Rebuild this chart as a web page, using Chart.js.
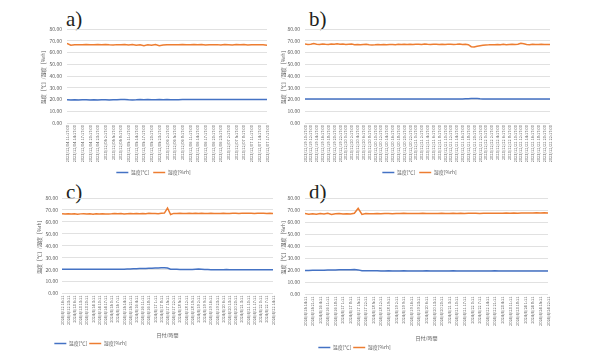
<!DOCTYPE html>
<html>
<head>
<meta charset="utf-8">
<script src="https://cdn.jsdelivr.net/npm/chart.js"></script>
<style>
  html, body { margin: 0; padding: 0; background: #fff; width: 591px; height: 358px; overflow: hidden; }
  canvas { position: absolute; }
  .tag { position: absolute; font-family: "Liberation Serif", "DejaVu Serif", serif; font-size: 21px; line-height: 1; color: #231f20; }
</style>
</head>
<body>
<div class="tag" style="left:66px;top:9px">a)</div>
<div class="tag" style="left:309px;top:9px">b)</div>
<div class="tag" style="left:66px;top:182px">c)</div>
<div class="tag" style="left:309px;top:182px">d)</div>

<canvas id="chartA" width="290" height="185" style="left:0px;top:0px"></canvas>
<canvas id="chartB" width="316" height="185" style="left:275px;top:0px"></canvas>
<canvas id="chartC" width="290" height="180" style="left:0px;top:176px"></canvas>
<canvas id="chartD" width="316" height="184" style="left:275px;top:176px"></canvas>

<script>
// colores y textos comunes
var BLUE = '#4472C4';
var ORANGE = '#ED7D31';
var GRID = '#D9D9D9';
var TEXT = '#595959';
var FONT = '"Noto Sans CJK JP", "Noto Sans", sans-serif';

var yTitle = '温度［℃］/湿度［%rh］';
var xTitle = '日付/時間';
var legendTemp = '温度[℃]';
var legendHum = '湿度[%rh]';
var yMin = 0, yMax = 80, yStep = 5;
var samplesPerLabel = 2;

// a) etiquetas y datos
var labelsA = ['2023/12/04 11:17:00', '2023/12/04 14:17:00', '2023/12/04 17:17:00', '2023/12/04 20:17:00', '2023/12/04 23:17:00',
  '2023/12/05 2:17:00', '2023/12/05 5:17:00', '2023/12/05 8:17:00', '2023/12/05 11:17:00', '2023/12/05 14:17:00',
  '2023/12/05 17:17:00', '2023/12/05 20:17:00', '2023/12/05 23:17:00', '2023/12/06 2:17:00', '2023/12/06 5:17:00',
  '2023/12/06 8:17:00', '2023/12/06 11:17:00', '2023/12/06 14:17:00', '2023/12/06 17:17:00', '2023/12/06 20:17:00',
  '2023/12/06 23:17:00', '2023/12/07 2:17:00', '2023/12/07 5:17:00', '2023/12/07 8:17:00', '2023/12/07 11:17:00',
  '2023/12/07 14:17:00', '2023/12/07 17:17:00'];
var humA = [67.8, 66.2, 66.6, 66.7, 66.5, 66.8, 66.6, 66.7, 66.9, 66.6,
  66.8, 66.5, 66.4, 66.7, 66.6, 66.9, 66.4, 66.8, 66.2, 66.6,
  65.8, 66.5, 66.1, 66.8, 65.7, 66.3, 66.6, 66.5, 66.7, 66.6,
  66.8, 66.7, 66.6, 66.8, 66.5, 66.7, 66.3, 66.6, 66.5, 66.7,
  66.4, 66.8, 66.6, 66.3, 66.7, 66.5, 66.8, 66.4, 66.6, 66.7,
  66.5, 66.6, 66.2];
var tempA = [19.8, 19.6, 19.7, 19.6, 19.7, 19.7, 19.6, 19.7, 19.6, 19.7,
  19.8, 19.6, 19.7, 19.7, 19.9, 20.1, 19.8, 19.6, 19.7, 20.0,
  19.8, 20.1, 19.7, 19.8, 20.0, 19.7, 19.9, 19.8, 19.7, 19.8,
  19.9, 20.0, 20.0, 20.0, 20.1, 20.0, 20.0, 20.1, 20.0, 20.0,
  20.0, 20.1, 20.0, 20.0, 20.1, 20.0, 20.0, 20.0, 20.0, 20.0,
  20.1, 20.0, 20.0];

// b) etiquetas y datos
var labelsB = ['2023/12/19 10:17:00', '2023/12/19 12:17:00', '2023/12/19 14:17:00', '2023/12/19 16:17:00', '2023/12/19 18:17:00',
  '2023/12/19 20:17:00', '2023/12/19 22:17:00', '2023/12/20 0:17:00', '2023/12/20 2:17:00', '2023/12/20 4:17:00',
  '2023/12/20 6:17:00', '2023/12/20 8:17:00', '2023/12/20 10:17:00', '2023/12/20 12:17:00', '2023/12/20 14:17:00',
  '2023/12/20 16:17:00', '2023/12/20 18:17:00', '2023/12/20 20:17:00', '2023/12/20 22:17:00', '2023/12/21 0:17:00',
  '2023/12/21 2:17:00', '2023/12/21 4:17:00', '2023/12/21 6:17:00', '2023/12/21 8:17:00', '2023/12/21 10:17:00',
  '2023/12/21 12:17:00', '2023/12/21 14:17:00', '2023/12/21 16:17:00', '2023/12/21 18:17:00', '2023/12/21 20:17:00',
  '2023/12/21 22:17:00', '2023/12/22 0:17:00', '2023/12/22 2:17:00', '2023/12/22 4:17:00', '2023/12/22 6:17:00',
  '2023/12/22 8:17:00', '2023/12/22 10:17:00', '2023/12/22 12:17:00', '2023/12/22 14:17:00', '2023/12/22 16:17:00',
  '2023/12/22 18:17:00', '2023/12/22 20:17:00', '2023/12/22 22:17:00'];
var humB = [67.2, 66.9, 67.0, 67.6, 67.1, 66.9, 67.3, 67.0, 66.8, 67.2,
  67.1, 67.4, 67.0, 67.2, 66.9, 67.1, 67.3, 66.7, 66.9, 66.5,
  66.8, 67.0, 66.6, 66.3, 66.5, 66.8, 66.6, 66.9, 66.7, 66.8,
  66.9, 66.7, 67.0, 66.8, 67.1, 66.9, 67.0, 66.8, 67.1, 67.0,
  66.9, 67.2, 67.0, 66.9, 67.1, 67.0, 66.8, 67.1, 66.9, 67.0,
  67.1, 66.9, 67.0, 67.2, 66.9, 67.0, 66.6, 64.9, 64.7, 65.3,
  65.7, 66.1, 66.4, 66.5, 66.7, 66.6, 66.8, 66.7, 67.0, 66.6,
  66.9, 67.1, 66.8, 67.0, 67.9, 67.4, 66.9, 66.7, 67.0, 66.8,
  66.9, 67.0, 66.8, 66.9, 66.8];
var tempB = [20.5, 20.5, 20.5, 20.5, 20.5, 20.5, 20.5, 20.5, 20.5, 20.5,
  20.5, 20.5, 20.5, 20.5, 20.5, 20.5, 20.5, 20.5, 20.5, 20.5,
  20.5, 20.5, 20.5, 20.5, 20.5, 20.5, 20.5, 20.5, 20.5, 20.5,
  20.5, 20.5, 20.5, 20.5, 20.5, 20.5, 20.5, 20.5, 20.5, 20.5,
  20.5, 20.5, 20.5, 20.5, 20.5, 20.5, 20.5, 20.5, 20.5, 20.5,
  20.5, 20.5, 20.5, 20.5, 20.5, 20.6, 20.7, 20.8, 20.9, 20.8,
  20.6, 20.5, 20.5, 20.5, 20.5, 20.5, 20.5, 20.5, 20.5, 20.5,
  20.5, 20.5, 20.5, 20.5, 20.5, 20.5, 20.5, 20.5, 20.5, 20.5,
  20.5, 20.5, 20.5, 20.5, 20.5];

// c) etiquetas y datos
var labelsC = ['2024/4/12 16:11', '2024/4/12 23:11', '2024/4/13 6:11', '2024/4/13 13:11', '2024/4/13 20:11',
  '2024/4/14 3:11', '2024/4/14 10:11', '2024/4/14 17:11', '2024/4/15 0:11', '2024/4/15 7:11',
  '2024/4/15 14:11', '2024/4/15 21:11', '2024/4/16 4:11', '2024/4/16 11:11', '2024/4/16 18:11',
  '2024/4/17 1:11', '2024/4/17 8:11', '2024/4/17 15:11', '2024/4/17 22:11', '2024/4/18 5:11',
  '2024/4/18 12:11', '2024/4/18 19:11', '2024/4/19 2:11', '2024/4/19 9:11', '2024/4/19 16:11',
  '2024/4/19 23:11', '2024/4/20 6:11', '2024/4/20 13:11', '2024/4/20 20:11', '2024/4/21 3:11',
  '2024/4/21 10:11', '2024/4/21 17:11', '2024/4/22 0:11', '2024/4/22 7:11', '2024/4/22 14:11'];
var humC = [66.8, 66.5, 66.9, 66.6, 66.8, 66.4, 66.7, 66.9, 66.5, 66.7,
  66.4, 66.8, 66.6, 66.9, 66.5, 66.7, 66.8, 67.1, 66.9, 67.0,
  66.7, 66.9, 67.1, 66.8, 67.0, 66.8, 67.1, 66.9, 67.2, 67.0,
  67.1, 66.9, 67.2, 67.4, 71.6, 66.2, 67.1, 67.0, 67.2, 67.1,
  67.0, 67.2, 67.1, 67.3, 67.0, 67.2, 67.1, 67.0, 67.2, 67.1,
  67.0, 67.1, 67.2, 67.0, 67.1, 67.2, 67.3, 67.1, 67.2, 67.3,
  67.2, 67.3, 67.1, 67.2, 67.3, 67.2, 67.1, 67.2, 67.0];
var tempC = [20.3, 20.3, 20.3, 20.3, 20.3, 20.3, 20.3, 20.3, 20.3, 20.3,
  20.3, 20.3, 20.3, 20.3, 20.3, 20.3, 20.3, 20.3, 20.3, 20.4,
  20.4, 20.5, 20.6, 20.7, 20.8, 20.9, 21.0, 21.0, 21.1, 21.2,
  21.3, 21.4, 21.5, 21.5, 21.3, 20.4, 20.3, 20.3, 20.2, 20.2,
  20.1, 20.1, 20.2, 20.4, 20.5, 20.4, 20.2, 20.1, 20.0, 20.0,
  20.0, 20.0, 20.0, 20.1, 20.0, 20.0, 20.0, 20.0, 20.0, 20.0,
  20.0, 20.0, 20.0, 20.0, 20.0, 20.0, 20.0, 20.0, 20.0];

// d) etiquetas y datos
var labelsD = ['2024/4/15 14:11', '2024/4/15 21:11', '2024/4/16 4:11', '2024/4/16 11:11', '2024/4/16 18:11',
  '2024/4/17 1:11', '2024/4/17 8:11', '2024/4/17 15:11', '2024/4/17 22:11', '2024/4/18 5:11',
  '2024/4/18 12:11', '2024/4/18 19:11', '2024/4/19 2:11', '2024/4/19 9:11', '2024/4/19 16:11',
  '2024/4/19 23:11', '2024/4/20 6:11', '2024/4/20 13:11', '2024/4/20 20:11', '2024/4/21 3:11',
  '2024/4/21 10:11', '2024/4/21 17:11', '2024/4/22 0:11', '2024/4/22 7:11', '2024/4/22 14:11',
  '2024/4/22 21:11', '2024/4/23 4:11', '2024/4/23 11:11', '2024/4/23 18:11', '2024/4/24 1:11',
  '2024/4/24 8:11', '2024/4/24 15:11', '2024/4/24 22:11'];
var humD = [67.2, 66.6, 67.0, 66.5, 67.1, 66.8, 67.3, 66.4, 66.9, 67.2,
  66.7, 67.0, 66.8, 67.4, 71.4, 66.4, 67.1, 67.0, 66.9, 67.1,
  67.0, 67.2, 67.1, 67.0, 67.2, 67.1, 67.3, 67.1, 67.2, 67.1,
  67.2, 67.3, 67.1, 67.2, 67.1, 67.2, 67.3, 67.2, 67.2, 67.3,
  67.2, 67.3, 67.2, 67.3, 67.4, 67.3, 67.2, 67.3, 67.4, 67.3,
  67.4, 67.3, 67.4, 67.5, 67.4, 67.5, 67.4, 67.5, 67.6, 67.5,
  67.6, 67.7, 67.6, 67.7, 67.6];
var tempD = [20.0, 20.0, 20.1, 20.1, 20.2, 20.2, 20.3, 20.3, 20.4, 20.5,
  20.5, 20.6, 20.6, 20.7, 20.4, 19.7, 19.6, 19.6, 19.6, 19.6,
  19.5, 19.5, 19.6, 19.5, 19.5, 19.5, 19.6, 19.5, 19.5, 19.5,
  19.5, 19.5, 19.6, 19.5, 19.5, 19.5, 19.5, 19.5, 19.5, 19.6,
  19.5, 19.5, 19.5, 19.5, 19.5, 19.5, 19.5, 19.5, 19.5, 19.5,
  19.6, 19.5, 19.5, 19.5, 19.5, 19.5, 19.5, 19.5, 19.5, 19.5,
  19.5, 19.5, 19.5, 19.5, 19.5];

// mueve la leyenda horizontalmente (Excel la deja fuera del centro)
var legendShift = {
  id: 'legendShift',
  afterLayout: function (chart, args, opts) {
    if (chart.legend && opts.dx) {
      chart.legend.left += opts.dx;
      chart.legend.right += opts.dx;
    }
  }
};

function toPoints(values) {
  return values.map(function (v, i) {
    return { x: i / samplesPerLabel, y: v };
  });
}

// Función para dibujar un panel
function drawPanel(id, labels, hum, temp, lay) {
  var ctx = document.getElementById(id).getContext('2d');
  return new Chart(ctx, {
    type: 'line',
    data: {
      datasets: [{
        label: legendTemp,
        data: toPoints(temp),
        borderColor: BLUE,
        backgroundColor: BLUE,
        borderWidth: 1.5,
        pointRadius: 0,
        tension: 0
      }, {
        label: legendHum,
        data: toPoints(hum),
        borderColor: ORANGE,
        backgroundColor: ORANGE,
        borderWidth: 1.5,
        pointRadius: 0,
        tension: 0
      }]
    },
    options: {
      responsive: false,
      animation: false,
      layout: { padding: { top: lay.top, right: lay.right, left: 0, bottom: 0 } },
      scales: {
        x: {
          type: 'linear',
          min: 0,
          max: labels.length - 1,
          grid: { display: false, drawTicks: false },
          border: { display: false },
          ticks: {
            stepSize: 1,
            autoSkip: false,
            minRotation: 90,
            maxRotation: 90,
            padding: 2,
            color: TEXT,
            font: { family: FONT, size: 4 },
            callback: function (v) { return labels[v]; }
          },
          title: {
            display: lay.xTitle,
            text: xTitle,
            color: TEXT,
            font: { family: FONT, size: 5 },
            padding: { top: 0, bottom: lay.xTitlePad || 0 }
          },
          afterFit: function (s) { s.height = lay.xh; }
        },
        y: {
          min: yMin,
          max: yMax,
          grid: { color: GRID, lineWidth: 0.8, drawTicks: false },
          border: { display: false },
          ticks: {
            stepSize: yStep,
            padding: lay.tickPad,
            color: TEXT,
            font: { family: FONT, size: 5 },
            callback: function (v) { return v.toFixed(2); }
          },
          title: {
            display: true,
            text: yTitle,
            color: TEXT,
            font: { family: FONT, size: 5 },
            padding: { top: lay.yTitlePad, bottom: 0 }
          },
          afterFit: function (s) { s.width = lay.yw; }
        }
      },
      plugins: {
        legend: {
          position: 'bottom',
          labels: {
            usePointStyle: true,
            pointStyle: 'line',
            pointStyleWidth: 12,
            boxHeight: 5,
            padding: lay.legPad,
            color: TEXT,
            font: { family: FONT, size: 5 }
          }
        },
        legendShift: { dx: lay.legDx },
        tooltip: { enabled: false }
      }
    },
    plugins: [legendShift]
  });
}

drawPanel('chartA', labelsA, humA, tempA,
  { top: 29, right: 23, yw: 67, yTitlePad: 40, tickPad: 5, xh: 43, xTitle: false, legPad: 4, legDx: 20 });
drawPanel('chartB', labelsB, humB, tempB,
  { top: 29, right: 41, yw: 30, yTitlePad: 5, tickPad: 5, xh: 43, xTitle: false, legPad: 4, legDx: 7 });
drawPanel('chartC', labelsC, humC, tempC,
  { top: 22, right: 17, yw: 62, yTitlePad: 36, tickPad: 4, xh: 45.5, xTitle: true, xTitlePad: 0.5, legPad: 2, legDx: -46 });
drawPanel('chartD', labelsD, humD, tempD,
  { top: 22, right: 43, yw: 30, yTitlePad: 5, tickPad: 5, xh: 48.5, xTitle: true, xTitlePad: 1.5, legPad: 2, legDx: -57 });
</script>
</body>
</html>
